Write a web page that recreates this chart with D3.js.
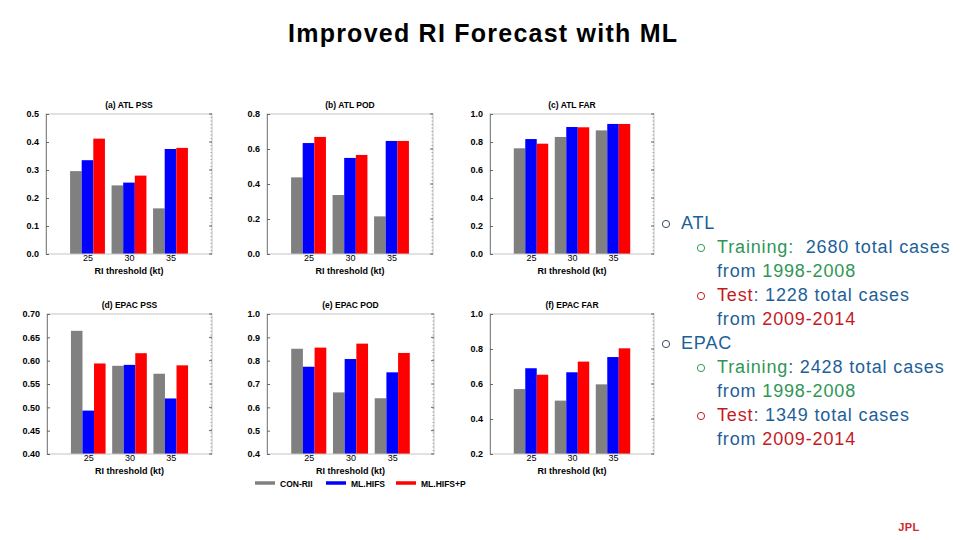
<!DOCTYPE html>
<html><head><meta charset="utf-8">
<script src="https://cdn.jsdelivr.net/npm/d3@7"></script>
<style>body{margin:0;background:#fff}svg{display:block}</style>
</head><body>
<svg id="c" width="960" height="540"></svg>
<script>
// ---- data ----
const thresholds = [25, 30, 35];
const seriesNames = ["CON-RII", "ML.HIFS", "ML.HIFS+P"];
const seriesColors = ["#808080", "#0000ff", "#ff0000"];
// rows = series (CON-RII, ML.HIFS, ML.HIFS+P), columns = thresholds
const atlPSS  = [[0.296, 0.245, 0.163], [0.335, 0.255, 0.375], [0.412, 0.280, 0.379]];
const atlPOD  = [[0.438, 0.337, 0.215], [0.634, 0.549, 0.646], [0.669, 0.566, 0.646]];
const atlFAR  = [[0.755, 0.836, 0.883], [0.821, 0.907, 0.929], [0.788, 0.905, 0.929]];
const epacPSS = [[0.664, 0.589, 0.572], [0.493, 0.591, 0.519], [0.594, 0.616, 0.590]];
const epacPOD = [[0.851, 0.664, 0.639], [0.774, 0.807, 0.750], [0.856, 0.873, 0.833]];
const epacFAR = [[0.571, 0.505, 0.598], [0.690, 0.667, 0.754], [0.653, 0.728, 0.804]];
const ticksPSSatl  = [0.0, 0.1, 0.2, 0.3, 0.4, 0.5];
const ticksPODatl  = [0.0, 0.2, 0.4, 0.6, 0.8];
const ticksFARatl  = [0.0, 0.2, 0.4, 0.6, 0.8, 1.0];
const ticksPSSepac = [0.40, 0.45, 0.50, 0.55, 0.60, 0.65, 0.70];
const ticksPODepac = [0.4, 0.5, 0.6, 0.7, 0.8, 0.9, 1.0];
const ticksFARepac = [0.2, 0.4, 0.6, 0.8, 1.0];
const panelTitles = ["(a) ATL PSS", "(b) ATL POD", "(c) ATL FAR", "(d) EPAC PSS", "(e) EPAC POD", "(f) EPAC FAR"];
const xAxisTitle = "RI threshold (kt)";

const panels = [
  {t: panelTitles[0], d: atlPSS,  ticks: ticksPSSatl,  fmt: ".1f", x0: 46,  x1: 212, y0: 114, y1: 254},
  {t: panelTitles[1], d: atlPOD,  ticks: ticksPODatl,  fmt: ".1f", x0: 267, x1: 433, y0: 114, y1: 254},
  {t: panelTitles[2], d: atlFAR,  ticks: ticksFARatl,  fmt: ".1f", x0: 490, x1: 654, y0: 114, y1: 254},
  {t: panelTitles[3], d: epacPSS, ticks: ticksPSSepac, fmt: ".2f", x0: 47,  x1: 212, y0: 314, y1: 454},
  {t: panelTitles[4], d: epacPOD, ticks: ticksPODepac, fmt: ".1f", x0: 267, x1: 434, y0: 314, y1: 454},
  {t: panelTitles[5], d: epacFAR, ticks: ticksFARepac, fmt: ".1f", x0: 490, x1: 654, y0: 314, y1: 454},
];

const svg = d3.select("#c");
const F = "'Liberation Sans', Arial, Helvetica, sans-serif";

svg.append("text").attr("x", 288).attr("y", 42)
  .attr("font-family", F).attr("font-weight", "bold").attr("font-size", 25)
  .attr("textLength", 389).attr("lengthAdjust", "spacing")
  .attr("fill", "#000").text("Improved RI Forecast with ML");

panels.forEach(p => {
  const ticks = p.ticks;
  const x = d3.scaleLinear().domain([20, 40]).range([p.x0, p.x1]);
  const y = d3.scaleLinear().domain([ticks[0], ticks[ticks.length - 1]]).range([p.y1, p.y0]);
  const g = svg.append("g");
  const bw = x(21.4) - x(20);
  // bars
  p.d.forEach((vals, si) => {
    g.selectAll(null).data(vals).enter().append("rect")
      .attr("x", (v, i) => x(thresholds[i]) + (si - 1.5) * bw)
      .attr("width", bw)
      .attr("y", v => y(v))
      .attr("height", v => y(ticks[0]) - y(v))
      .attr("fill", seriesColors[si]);
  });
  // frame
  g.append("rect").attr("x", p.x0).attr("y", p.y0).attr("width", p.x1 - p.x0).attr("height", p.y1 - p.y0)
    .attr("fill", "none").attr("stroke", "#c4c4c4").attr("stroke-width", 1);
  // left axis
  const ya = d3.axisLeft(y).tickValues(ticks).tickFormat(d3.format(p.fmt)).tickSizeInner(-3).tickSizeOuter(0).tickPadding(7);
  const ag = g.append("g").attr("transform", `translate(${p.x0},0)`).call(ya);
  ag.select(".domain").attr("stroke", "#888");
  ag.selectAll("line").attr("stroke", "#666");
  ag.selectAll("text").attr("font-family", F).attr("font-weight", "bold").attr("font-size", 9).attr("fill", "#000");
  // right ticks (minor)
  const minor = d3.range(0, 41).map(i => ticks[0] + (ticks[ticks.length - 1] - ticks[0]) * i / 40);
  g.selectAll(null).data(minor).enter().append("line")
    .attr("x1", p.x1).attr("x2", p.x1 - 1.5).attr("y1", v => y(v)).attr("y2", v => y(v))
    .attr("stroke", "#999").attr("stroke-width", 0.8);
  g.selectAll(null).data(ticks).enter().append("line")
    .attr("x1", p.x1).attr("x2", p.x1 - 3).attr("y1", v => y(v)).attr("y2", v => y(v))
    .attr("stroke", "#666").attr("stroke-width", 1);
  // bottom axis labels
  const xa = d3.axisBottom(x).tickValues(thresholds).tickFormat(d3.format("d")).tickSize(0).tickPadding(1);
  const xg = g.append("g").attr("transform", `translate(0,${p.y1})`).call(xa);
  xg.select(".domain").remove();
  xg.selectAll("text").attr("font-family", F).attr("font-size", 9).attr("fill", "#000");
  g.append("text").attr("x", (p.x0 + p.x1) / 2).attr("y", p.y1 + 19.5).attr("text-anchor", "middle")
    .attr("font-family", F).attr("font-weight", "bold").attr("font-size", 9).attr("fill", "#000").text(xAxisTitle);
  g.append("text").attr("x", (p.x0 + p.x1) / 2).attr("y", p.y0 - 6).attr("text-anchor", "middle")
    .attr("font-family", F).attr("font-weight", "bold").attr("font-size", 8.5).attr("fill", "#000").text(p.t);
});

// legend
const legX = [255, 326, 396];
seriesNames.forEach((n, i) => {
  svg.append("line").attr("x1", legX[i]).attr("x2", legX[i] + 20).attr("y1", 483).attr("y2", 483)
    .attr("stroke", seriesColors[i]).attr("stroke-width", 3.5);
  svg.append("text").attr("x", legX[i] + 25).attr("y", 486.5).attr("font-family", F)
    .attr("font-weight", "bold").attr("font-size", 8.5).attr("fill", "#000").text(n);
});

// right text block
const BLUE = "#1d5f99", GREEN = "#2f9656", RED = "#c41a1f";
const lines = [
  {bx: 666, tx: 681, bc: "#3a4a5a", parts: [["ATL", BLUE]]},
  {bx: 701, tx: 717, bc: GREEN, parts: [["Training:", GREEN], ["  2680 total cases", BLUE]]},
  {bx: null, tx: 717, parts: [["from ", BLUE], ["1998-2008", GREEN]]},
  {bx: 701, tx: 717, bc: RED, parts: [["Test", RED], [": 1228 total cases", BLUE]]},
  {bx: null, tx: 717, parts: [["from ", BLUE], ["2009-2014", RED]]},
  {bx: 666, tx: 681, bc: "#3a4a5a", parts: [["EPAC", BLUE]]},
  {bx: 701, tx: 717, bc: GREEN, parts: [["Training", GREEN], [": 2428 total cases", BLUE]]},
  {bx: null, tx: 717, parts: [["from ", BLUE], ["1998-2008", GREEN]]},
  {bx: 701, tx: 717, bc: RED, parts: [["Test", RED], [": 1349 total cases", BLUE]]},
  {bx: null, tx: 717, parts: [["from ", BLUE], ["2009-2014", RED]]},
];
lines.forEach((l, i) => {
  const yy = 229 + i * 24;
  if (l.bx !== null) {
    svg.append("circle").attr("cx", l.bx).attr("cy", yy - 5).attr("r", 3.6)
      .attr("fill", "none").attr("stroke", l.bc).attr("stroke-width", 1);
  }
  const t = svg.append("text").attr("x", l.tx).attr("y", yy).attr("font-family", F).attr("font-size", 18)
    .attr("letter-spacing", 0.85).style("white-space", "pre");
  l.parts.forEach(pt => t.append("tspan").attr("fill", pt[1]).text(pt[0]));
});

// JPL mark
svg.append("text").attr("x", 909).attr("y", 531).attr("text-anchor", "middle").attr("font-family", F)
  .attr("font-weight", "bold").attr("font-size", 11).attr("letter-spacing", 0.5).attr("fill", "#d0282e").text("JPL");
</script>
</body></html>
